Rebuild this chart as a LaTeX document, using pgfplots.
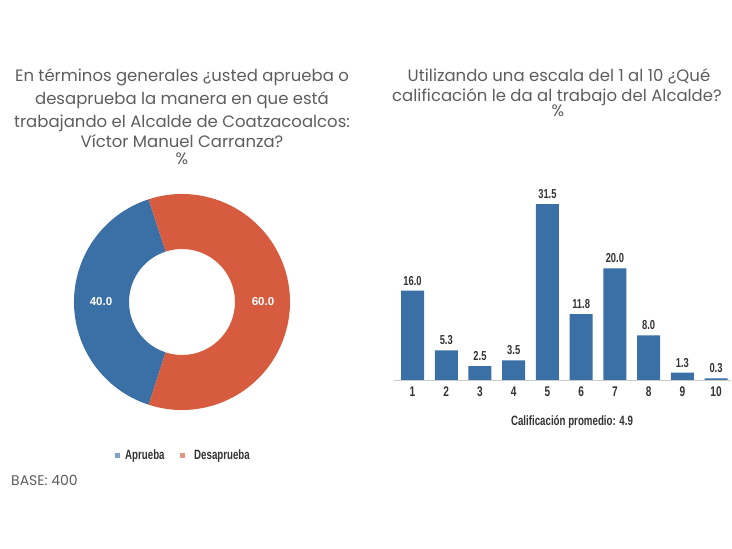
\documentclass[border=0pt]{standalone}
\usepackage{pgfplots}
\pgfplotsset{compat=1.18}
\usepackage{fontspec}
\setmainfont{Poppins}
\newfontfamily\cond[FakeStretch=0.72]{Liberation Sans}
\newfontfamily\plainsans{Liberation Sans}
\definecolor{barblue}{HTML}{3A70A6}
\definecolor{donutred}{HTML}{D65B3F}
\definecolor{titlegray}{HTML}{5E5E5E}
\definecolor{labgray}{HTML}{333333}
\begin{document}
\begin{tikzpicture}
\useasboundingbox[fill=white] (0,0) rectangle (732pt,549pt);
% titles
\begin{scope}[every node/.style={anchor=base, text=titlegray, font=\fontsize{16.5}{18}\selectfont, inner sep=0pt}]
\node at (182pt,467pt) {En términos generales ¿usted aprueba o};
\node at (182pt,444pt) {desaprueba la manera en que está};
\node at (182pt,421pt) {trabajando el Alcalde de Coatzacoalcos:};
\node at (182pt,401pt) {Víctor Manuel Carranza?};
\node at (182pt,384pt) {\%};
\node at (559pt,467pt) {Utilizando una escala del 1 al 10 ¿Qué};
\node at (557pt,447pt) {calificación le da al trabajo del Alcalde?};
\node at (558pt,432pt) {\%};
\end{scope}
% donut
\pgfmathsetmacro{\aprueba}{40.0}
\pgfmathsetmacro{\desaprueba}{60.0}
\pgfmathsetmacro{\sa}{180-0.5*\aprueba*3.6}
\pgfmathsetmacro{\ea}{180+0.5*\aprueba*3.6}
\pgfmathsetmacro{\eb}{\ea+\desaprueba*3.6}
\begin{scope}[shift={(182pt,247pt)}]
\fill[barblue] (\sa:108pt) arc[start angle=\sa,end angle=\ea,radius=108pt] -- (\ea:53pt) arc[start angle=\ea,end angle=\sa,radius=53pt] -- cycle;
\fill[donutred] (\ea:108pt) arc[start angle=\ea,end angle=\eb,radius=108pt] -- (\eb:53pt) arc[start angle=\eb,end angle=\ea,radius=53pt] -- cycle;
\node[text=white, font=\plainsans\bfseries\fontsize{11.5}{11.5}\selectfont] at (180:81pt) {40.0};
\node[text=white, font=\plainsans\bfseries\fontsize{11.5}{11.5}\selectfont] at (0:81pt) {60.0};
\end{scope}
% legend
\fill[barblue!65] (114.5pt,90.5pt) rectangle (119.5pt,95.5pt);
\node[anchor=west, inner sep=0pt, text=labgray, font=\cond\bfseries\fontsize{13.5}{13.5}\selectfont] at (125pt,93pt) {Aprueba};
\fill[donutred!65] (179.5pt,90.5pt) rectangle (184.5pt,95.5pt);
\node[anchor=west, inner sep=0pt, text=labgray, font=\cond\bfseries\fontsize{13.5}{13.5}\selectfont] at (194pt,93pt) {Desaprueba};
\node[anchor=west, inner sep=0pt, text=titlegray, font=\fontsize{14}{14}\selectfont] at (11pt,69pt) {BASE: 400};
% bar chart
\begin{axis}[at={(394pt,169pt)}, anchor=south west, scale only axis,
  width=337.2pt, height=189.7pt,
  xmin=0.45, xmax=10.45, ymin=0, ymax=34,
  ybar, bar width=23pt,
  axis x line*=bottom, axis y line=none,
  x axis line style={draw=gray!40, -},
  xtick={1,...,10}, major tick length=0pt,
  xticklabel style={font=\cond\bfseries\fontsize{14}{14}\selectfont, text=labgray, yshift=-3pt},
  /pgf/number format/assume math mode=true,
  nodes near coords,
  every node near coord/.append style={font=\cond\bfseries\fontsize{13}{13}\selectfont, text=labgray, yshift=2pt,
    /pgf/number format/.cd, fixed, fixed zerofill, precision=1, assume math mode=true},
  clip=false]
\addplot[fill=barblue, draw=none] coordinates {(1,16.0) (2,5.3) (3,2.5) (4,3.5) (5,31.5) (6,11.8) (7,20.0) (8,8.0) (9,1.3) (10,0.3)};
\end{axis}
\node[text=labgray, font=\cond\bfseries\fontsize{13.5}{13.5}\selectfont] at (572pt,127pt) {Calificación promedio: 4.9};
\end{tikzpicture}
\end{document}
